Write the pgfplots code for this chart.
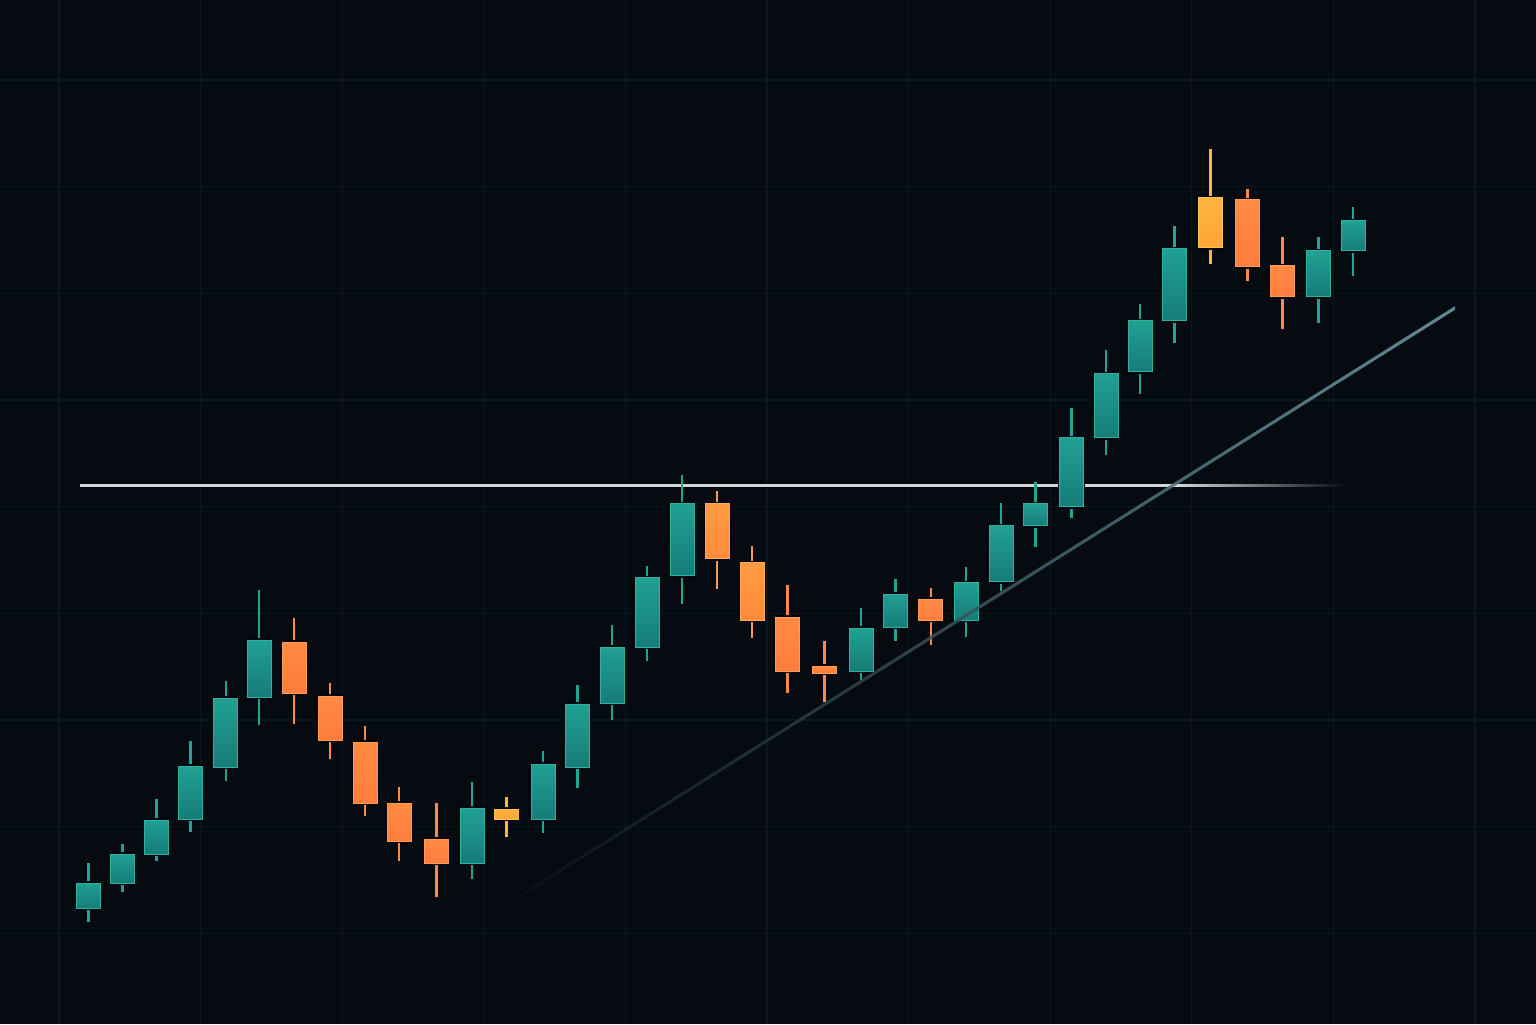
\documentclass[border=0pt]{standalone}
\usepackage{pgfplots}
\usepackage{pgfplotstable}
\pgfplotsset{compat=1.18}
\definecolor{bg}{HTML}{060B12}
\definecolor{gridc}{HTML}{0A171D}
\definecolor{shadow}{HTML}{03070B}
% 0 teal, 1 orange, 2 light orange, 3 yellow
\definecolor{ct0}{HTML}{21A092}\definecolor{cb0}{HTML}{167C78}\definecolor{cl0}{HTML}{2CB2A3}\definecolor{cw0}{HTML}{1FA595}
\definecolor{ct1}{HTML}{FF8A42}\definecolor{cb1}{HTML}{FF7C3D}\definecolor{cl1}{HTML}{FF9C58}\definecolor{cw1}{HTML}{FF8A48}
\definecolor{ct2}{HTML}{FF9A42}\definecolor{cb2}{HTML}{FF8B3D}\definecolor{cl2}{HTML}{FFAA58}\definecolor{cw2}{HTML}{FF9A48}
\definecolor{ct3}{HTML}{FFB43C}\definecolor{cb3}{HTML}{FFA535}\definecolor{cl3}{HTML}{FFC255}\definecolor{cw3}{HTML}{FFB440}
\definecolor{hl}{HTML}{D4D6D6}
\definecolor{trendA}{HTML}{35565F}
\definecolor{trendB}{HTML}{6C9CA8}

\pgfplotstableread{
x o h l c t
88.3 116 161 102 141 0
122.5 141 180 132 170 0
156.7 170 225 163 204 0
190.5 205 283 192 258 0
225.8 257 343 243 326 0
259 327 434 299 384 0
294 382 406 300 331 1
330 328 341 265 284 1
365 282 298 208 221 1
399 221 237 163 183 1
436.7 185 221 127 161 1
472 161 242 145 216 0
506.7 215 227 187 205 3
543 205 273 191 260 0
577.5 257 339 236 320 0
612 321 399 304 377 0
647 377 458 363 446 0
682 448 549 420 520 0
717 520 533 435 465 2
752 461 478 386 404 2
787.5 407 439 331 353 1
824.7 358 383 322 351 1
861 353 416 343 396 0
895.6 397 445 383 430 0
930.8 425 436 379 404 1
966 404 457 387 441 0
1001 442 521 433 498 0
1035.7 498 542 477 520 0
1071.7 517 616 506 586 0
1106 586 674 569 650 0
1140 652 720 630 703 0
1174.3 703 798 681 775 0
1210.3 826 875 760 776 3
1247.7 824 835 743 757 1
1282.7 758 787 695 727 1
1318.3 727 787 701 773 0
1353 773 817 748 803 0
}\candles

\begin{document}
\begin{tikzpicture}
\begin{axis}[
  name=ax,
  width=768pt, height=512pt, scale only axis,
  xmin=0, xmax=1536, ymin=0, ymax=1024,
  axis background/.style={fill=bg},
  axis line style={draw=none},
  major tick length=0pt,
  tick style={draw=none},
  xticklabels={}, yticklabels={},
  xtick={59,200.6,342.2,483.8,625.4,767,908.6,1050.2,1191.8,1333.4,1475},
  ytick={90.7,197.3,304,410.7,517.3,624,730.7,837.3,944},
  grid=major,
  grid style={draw=gridc, line width=0.6pt},
  clip=true,
]
% resistance line (behind candles)
\addplot[draw=shadow, line width=2.6pt, line cap=butt] coordinates {(80,538.5) (1180,538.5)};
\addplot[draw=hl, line width=1.4pt, line cap=butt] coordinates {(80,538.5) (1180,538.5)};
\addplot[draw=none, left color=hl, right color=bg] coordinates {(1179,537.1) (1345,537.1) (1345,539.9) (1179,539.9)} -- cycle;

% candles
\pgfplotstablegetrowsof{\candles}
\pgfmathtruncatemacro\nrows{\pgfplotsretval-1}
\pgfplotsforeachungrouped \r in {0,...,\nrows}{%
  \pgfplotstablegetelem{\r}{x}\of\candles\let\vX\pgfplotsretval
  \pgfplotstablegetelem{\r}{o}\of\candles\let\vO\pgfplotsretval
  \pgfplotstablegetelem{\r}{h}\of\candles\let\vH\pgfplotsretval
  \pgfplotstablegetelem{\r}{l}\of\candles\let\vL\pgfplotsretval
  \pgfplotstablegetelem{\r}{c}\of\candles\let\vC\pgfplotsretval
  \pgfplotstablegetelem{\r}{t}\of\candles\let\vT\pgfplotsretval
  \pgfmathsetmacro\xa{\vX-12}%
  \pgfmathsetmacro\xb{\vX+12}%
  \edef\cmd{%
    \noexpand\addplot[draw=cw\vT, line width=1.25pt, line cap=butt, mark=none] coordinates {(\vX,\vL) (\vX,\vH)};
    \noexpand\addplot[mark=none, draw=cl\vT, line width=0.5pt, top color=ct\vT, bottom color=cb\vT,
       preaction={draw=shadow, line width=1.6pt}] coordinates {(\xa,\vO) (\xb,\vO) (\xb,\vC) (\xa,\vC)} -- cycle;
  }\cmd
}

% trend line (on top, fading to the left)
\addplot[draw=none, left color=bg, middle color=trendA, right color=trendB, opacity=0.88]
  coordinates {(485,104.2) (1455,714.2) (1455,717.8) (485,107.8)} -- cycle;
\end{axis}
\pgfresetboundingbox
\path[use as bounding box] (ax.south west) rectangle (ax.north east);
\end{tikzpicture}
\end{document}
